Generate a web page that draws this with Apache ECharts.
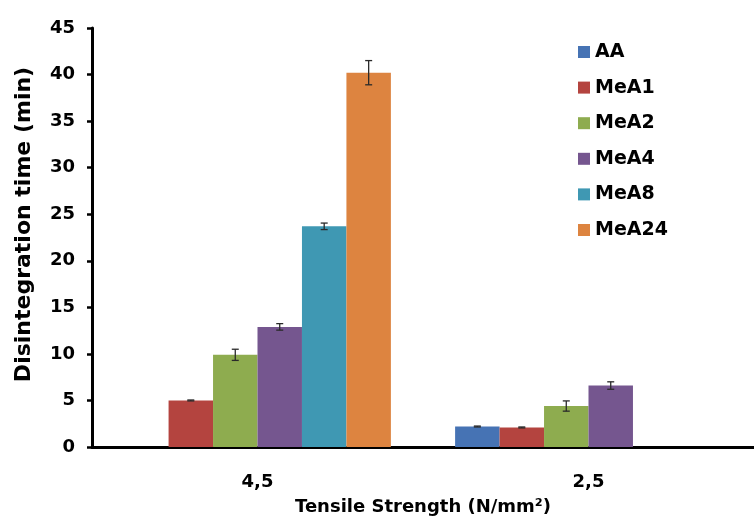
<!DOCTYPE html>
<html>
<head>
<meta charset="utf-8">
<script src="https://cdn.jsdelivr.net/npm/echarts@6/dist/echarts.min.js"></script>
<style>
html,body{margin:0;padding:0;background:#fff;}
#chart{width:754px;height:521px;}
</style>
</head>
<body>
<div id="chart"></div>
<script>
// ---- data ----
const categories = ['4,5', '2,5'];
const seriesNames = ['AA', 'MeA1', 'MeA2', 'MeA4', 'MeA8', 'MeA24'];
const AA = [null, 2.2];
const MeA1 = [5.0, 2.1];
const MeA2 = [9.9, 4.4];
const MeA4 = [12.9, 6.6];
const MeA8 = [23.7, null];
const MeA24 = [40.2, null];
const AA_err = [null, 0.05];
const MeA1_err = [0.05, 0.05];
const MeA2_err = [0.6, 0.55];
const MeA4_err = [0.35, 0.4];
const MeA8_err = [0.35, null];
const MeA24_err = [1.3, null];
const yMin = 0, yMax = 45, yStep = 5;

// ---- styles ----
const colors = ['#4673b4', '#b4443f', '#8eac4f', '#75568f', '#3f98b3', '#dd8440'];
const FONT = '"DejaVu Sans", sans-serif';
const CAT_GAP = 0.194;

const values = [AA, MeA1, MeA2, MeA4, MeA8, MeA24];
const errors = [AA_err, MeA1_err, MeA2_err, MeA4_err, MeA8_err, MeA24_err];

const barSeries = seriesNames.map((name, s) => ({
  name: name,
  type: 'bar',
  data: values[s].map(v => v == null ? '-' : v),
  itemStyle: { color: colors[s] },
  barGap: '0%',
  barCategoryGap: (CAT_GAP * 100) + '%',
  z: 2
}));

const errData = [];
values.forEach((arr, s) => {
  arr.forEach((v, c) => {
    if (v != null && errors[s][c] != null) errData.push([c, s, v, errors[s][c]]);
  });
});

const errSeries = {
  type: 'custom',
  name: 'err',
  silent: true,
  z: 5,
  encode: { x: 0, y: 2 },
  data: errData,
  renderItem: function (params, api) {
    const c = api.value(0), s = api.value(1), v = api.value(2), e = api.value(3);
    const band = api.size([1, 0])[0];
    const groupW = band * (1 - CAT_GAP);
    const bw = groupW / seriesNames.length;
    const cx = api.coord([c, 0])[0] - groupW / 2 + (s + 0.5) * bw;
    const yt = api.coord([c, v + e])[1];
    const yb = api.coord([c, v - e])[1];
    const cap = 3.5;
    const st = { stroke: '#2a2a2a', lineWidth: 1.3 };
    return {
      type: 'group',
      children: [
        { type: 'line', shape: { x1: cx, y1: yt, x2: cx, y2: yb }, style: st },
        { type: 'line', shape: { x1: cx - cap, y1: yt, x2: cx + cap, y2: yt }, style: st },
        { type: 'line', shape: { x1: cx - cap, y1: yb, x2: cx + cap, y2: yb }, style: st }
      ]
    };
  }
};

const chart = echarts.init(document.getElementById('chart'), null, { renderer: 'canvas' });
chart.setOption({
  animation: false,
  backgroundColor: '#ffffff',
  color: colors,
  grid: { left: 92, top: 28, width: 670, height: 425.5, containLabel: false },
  legend: {
    data: seriesNames,
    orient: 'vertical',
    left: 573,
    top: 36,
    itemWidth: 12,
    itemHeight: 12,
    itemGap: 13.6,
    icon: 'rect',
    textStyle: { fontFamily: FONT, fontWeight: 'bold', fontSize: 19, color: '#000', lineHeight: 22 }
  },
  xAxis: {
    type: 'category',
    data: categories,
    name: 'Tensile Strength (N/mm²)',
    nameLocation: 'middle',
    nameGap: 51,
    nameTextStyle: { fontFamily: FONT, fontWeight: 'bold', fontSize: 18, color: '#000' },
    axisLine: { lineStyle: { color: '#000', width: 3 } },
    axisTick: { show: false },
    axisLabel: { margin: 26, fontFamily: FONT, fontWeight: 'bold', fontSize: 18, color: '#000' },
    splitLine: { show: false }
  },
  yAxis: {
    type: 'value',
    min: yMin,
    max: yMax,
    interval: yStep,
    name: 'Disintegration time (min)',
    nameLocation: 'middle',
    nameRotate: 90,
    nameGap: 57,
    nameTextStyle: { fontFamily: FONT, fontWeight: 'bold', fontSize: 22, color: '#000', padding: [0, 0, 0, 26] },
    axisLine: { show: true, lineStyle: { color: '#000', width: 3 } },
    axisTick: { show: true, length: 5, lineStyle: { color: '#000', width: 2.5 } },
    axisLabel: { margin: 17, fontFamily: FONT, fontWeight: 'bold', fontSize: 18, color: '#000' },
    splitLine: { show: false }
  },
  series: barSeries.concat([errSeries])
});
</script>
</body>
</html>
